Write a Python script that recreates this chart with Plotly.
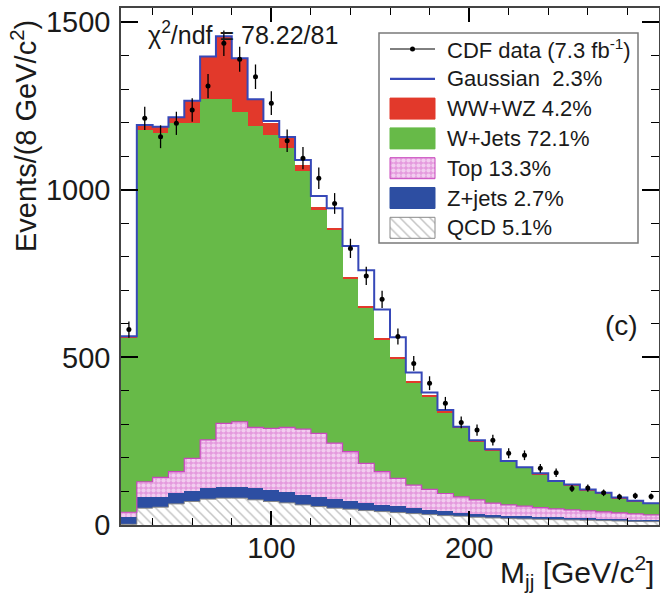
import numpy as np
import plotly.graph_objects as go

# ---------------- data ----------------
mass_centres = [28, 36, 44, 52, 60, 68, 76, 84, 92, 100, 108, 116, 124, 132, 140, 148, 156,
                164, 172, 180, 188, 196, 204, 212, 220, 228, 236, 244, 252, 260, 268, 276, 284, 292]
bin_width = 8

cdf_data = [583, 1213, 1158, 1198, 1238, 1309, 1437, 1389, 1337, 1258, 1146, 1094, 1034, 959, 825, 743, 673,
            562, 482, 423, 363, 306, 283, 253, 214, 208, 169, 156, 109, 110, 96, 84, 87, 85]
gaussian = [0, 0, 0, 0, 0, 0, 0, 0, 0, 5, 4, 15, 32, 59, 93, 108, 86,
            58, 26, 9, 5, 0, 0, 0, 0, 0, 0, 0, 0, 0, 0, 0, 0, 0]
ww_wz = [6, 15, 20, 16, 65, 125, 186, 159, 80, 37, 30, 17, 10, 6, 4, 4, 4,
         4, 4, 3, 2, 3, 3, 3, 2, 2, 3, 2, 3, 2, 2, 2, 1, 1]
w_jets = [519, 1049, 1026, 1041, 1001, 1018, 969, 925, 899, 875, 832, 771, 666, 636, 516, 464, 394,
          359, 306, 277, 242, 206, 175, 158, 129, 114, 99, 81, 73, 62, 55, 44, 38, 34]
top = [13, 46, 58, 65, 97, 145, 191, 196, 182, 184, 192, 197, 189, 167, 147, 118, 98,
       83, 68, 60, 53, 48, 42, 35, 33, 30, 28, 25, 24, 22, 21, 19, 17, 15]
z_jets = [23, 33, 31, 31, 32, 32, 32, 32, 34, 34, 33, 29, 29, 27, 25, 23, 21,
          19, 17, 15, 13, 10, 10, 9, 8, 8, 7, 7, 6, 6, 5, 5, 5, 5]
qcd = [2, 50, 53, 63, 70, 77, 80, 80, 75, 70, 66, 60, 55, 50, 47, 43, 40,
       37, 34, 31, 28, 26, 23, 21, 19, 18, 17, 16, 15, 14, 13, 12, 11, 10]

legend_labels = ["CDF data (7.3 fb<sup>-1</sup>)", "Gaussian  2.3%", "WW+WZ 4.2%", "W+Jets 72.1%",
                 "Top 13.3%", "Z+jets 2.7%", "QCD 5.1%"]
x_ticks = [100, 200]
y_ticks = [0, 500, 1000, 1500]

# ---------------- styles ----------------
FONT = "Liberation Sans, Arial, Helvetica, sans-serif"
TXT = "#1a1a1a"
C_RED = "#e2392b"
C_GREEN = "#67ba48"
C_ZBLUE = "#2d4ea2"
C_GAUSS = "#3648b8"
C_MAGENTA = "#c848bd"
pat_qcd = dict(shape="\\", fgcolor="#8a8a8a", bgcolor="white", size=7, solidity=0.22)
pat_top = dict(shape=".", fgcolor="white", bgcolor="#e49ade", size=5, solidity=0.55)

x = np.array(mass_centres, float)
edges = np.append(x - bin_width / 2, x[-1] + bin_width / 2)

fig = go.Figure()

stack = [
    ("QCD", qcd, dict(color="white", pattern=pat_qcd)),
    ("Z+jets", z_jets, dict(color=C_ZBLUE)),
    ("Top", top, dict(color="#e49ade", pattern=pat_top)),
    ("W+Jets", w_jets, dict(color=C_GREEN)),
    ("WW+WZ", ww_wz, dict(color=C_RED)),
    ("Gaussian", gaussian, dict(color="rgba(255,255,255,0)")),
]
for name, vals, marker in stack:
    marker["line"] = dict(width=0)
    fig.add_trace(go.Bar(x=x, y=vals, width=bin_width, marker=marker, name=name,
                         showlegend=False, hoverinfo="skip"))


def step(vals):
    v = np.asarray(vals, float)
    return np.append(v, v[-1])


cum_qcd = np.array(qcd, float)
cum_top = cum_qcd + np.array(z_jets) + np.array(top)
total = cum_top + np.array(w_jets) + np.array(ww_wz) + np.array(gaussian)

fig.add_trace(go.Scatter(x=edges, y=step(cum_qcd), mode="lines",
                         line=dict(shape="hv", color="#888888", width=1), hoverinfo="skip"))
fig.add_trace(go.Scatter(x=edges, y=step(cum_top), mode="lines",
                         line=dict(shape="hv", color=C_MAGENTA, width=1.2), hoverinfo="skip"))
fig.add_trace(go.Scatter(x=edges, y=step(total), mode="lines",
                         line=dict(shape="hv", color=C_GAUSS, width=2), hoverinfo="skip"))

fig.add_trace(go.Scatter(
    x=x, y=cdf_data, mode="markers",
    marker=dict(color="black", size=5),
    error_y=dict(type="data", array=np.sqrt(np.array(cdf_data, float)), thickness=1.3, width=0, color="black"),
    hoverinfo="skip"))

# ---------------- legend (drawn on a pixel-coordinate overlay) ----------------
L_X0, L_X1, L_Y0, L_Y1 = 379, 638, 33, 243
SW_X0, SW_X1, TXT_X = 390, 435, 445
row_y = [49 + 29.8 * i for i in range(len(legend_labels))]
sw_half = 10.5

fig.add_shape(type="rect", xref="x2", yref="y2", x0=L_X0, x1=L_X1, y0=L_Y0, y1=L_Y1,
              line=dict(color="#7a7a7a", width=1.5), fillcolor="white", layer="below")

# CDF data entry
fig.add_trace(go.Scatter(x=[SW_X0, SW_X1], y=[row_y[0]] * 2, mode="lines",
                         line=dict(color="black", width=1), xaxis="x2", yaxis="y2", hoverinfo="skip"))
fig.add_trace(go.Scatter(x=[(SW_X0 + SW_X1) / 2], y=[row_y[0]], mode="markers",
                         marker=dict(color="black", size=5), xaxis="x2", yaxis="y2", hoverinfo="skip"))
# Gaussian entry
fig.add_trace(go.Scatter(x=[SW_X0, SW_X1], y=[row_y[1]] * 2, mode="lines",
                         line=dict(color=C_GAUSS, width=2.2), xaxis="x2", yaxis="y2", hoverinfo="skip"))
# box entries
box_styles = [
    (row_y[2], dict(fillcolor=C_RED), None, C_RED),
    (row_y[3], dict(fillcolor=C_GREEN), None, C_GREEN),
    (row_y[4], dict(fillcolor="#e49ade"), pat_top, C_MAGENTA),
    (row_y[5], dict(fillcolor=C_ZBLUE), None, C_ZBLUE),
    (row_y[6], dict(fillcolor="white"), pat_qcd, "#8a8a8a"),
]
for yc, fill, pat, lc in box_styles:
    kw = dict(fill="toself", mode="lines", line=dict(color=lc, width=1),
              xaxis="x2", yaxis="y2", hoverinfo="skip", **fill)
    if pat is not None:
        kw["fillpattern"] = pat
    fig.add_trace(go.Scatter(x=[SW_X0, SW_X1, SW_X1, SW_X0, SW_X0],
                             y=[yc - sw_half, yc - sw_half, yc + sw_half, yc + sw_half, yc - sw_half], **kw))

annotations = []
for lab, yc in zip(legend_labels, row_y):
    annotations.append(dict(text=lab, xref="x2", yref="y2", x=TXT_X, y=yc, xanchor="left", yanchor="middle",
                            showarrow=False, font=dict(family=FONT, size=22, color=TXT)))

# chi2, panel label, axis titles
annotations += [
    dict(text="\u03c7<sup>2</sup>/ndf = 78.22/81", xref="x2", yref="y2", x=146, y=33, xanchor="left",
         yanchor="middle", showarrow=False, font=dict(family=FONT, size=25, color=TXT)),
    dict(text="(c)", xref="x2", yref="y2", x=621, y=325, xanchor="center", yanchor="middle",
         showarrow=False, font=dict(family=FONT, size=28, color=TXT)),
    dict(text="Events/(8 GeV/c<sup>2</sup>)", xref="paper", yref="paper", x=(24 - 121) / 538,
         y=(525 - 136) / 517, xanchor="center", yanchor="middle", textangle=-90, showarrow=False,
         font=dict(family=FONT, size=29, color=TXT)),
    dict(text="M<sub>jj</sub> [GeV/c<sup>2</sup>]", xref="paper", yref="paper", x=(498 - 121) / 538,
         y=(525 - 572) / 517, xanchor="left", yanchor="middle", showarrow=False,
         font=dict(family=FONT, size=30, color=TXT)),
]

axis_common = dict(showline=True, linecolor="#444444", linewidth=1.5, mirror="ticks", ticks="inside",
                   tickcolor="black", showgrid=False, zeroline=False, automargin=False,
                   ticklabeloverflow="allow", tickfont=dict(family=FONT, size=29, color=TXT))

fig.update_layout(
    width=660, height=600,
    margin=dict(l=121, r=1, t=8, b=75, autoexpand=False),
    paper_bgcolor="white", plot_bgcolor="white",
    barmode="stack", bargap=0, showlegend=False,
    font=dict(family=FONT, color=TXT),
    xaxis=dict(range=[edges[0], edges[-1]], tickvals=x_ticks, ticklen=14, tickwidth=1.5,
               ticklabelstandoff=-4,
               minor=dict(ticks="inside", dtick=20, tick0=0, ticklen=7, tickwidth=1, tickcolor="black"),
               **axis_common),
    yaxis=dict(range=[0, 1542], tickvals=y_ticks, ticklen=17, tickwidth=2, ticklabelstandoff=3,
               minor=dict(ticks="inside", dtick=100, tick0=0, ticklen=8, tickwidth=1, tickcolor="black"),
               **axis_common),
    xaxis2=dict(overlaying="x", anchor="y2", range=[121, 659], visible=False, fixedrange=True),
    yaxis2=dict(overlaying="y", anchor="x2", range=[525, 8], visible=False, fixedrange=True),
    annotations=annotations,
)

# remove the browser's default 8 px page margin so the figure fills the window exactly
fig.write_html("out.html", config={"displayModeBar": False},
               post_script="document.body.style.margin='0px';")
